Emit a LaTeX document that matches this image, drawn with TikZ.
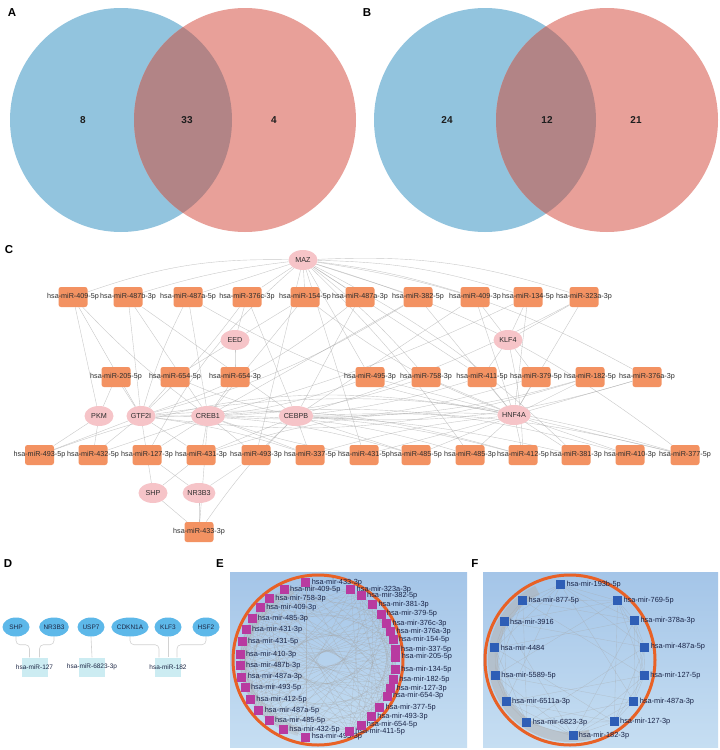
\documentclass[tikz,border=0pt]{standalone}
\usepackage{fontspec}
\setmainfont{Liberation Sans}
\usetikzlibrary{shapes.geometric,calc}
\pgfdeclarelayer{bg}\pgfdeclarelayer{edges}\pgfsetlayers{bg,edges,main}
\definecolor{vblue}{RGB}{146,196,222}
\definecolor{vred}{RGB}{232,160,153}
\definecolor{vmix}{RGB}{178,132,134}
\definecolor{vtext}{RGB}{30,30,30}
\definecolor{cbox}{RGB}{243,146,98}
\definecolor{cpink}{RGB}{246,196,200}
\definecolor{ctext}{RGB}{45,45,45}
\definecolor{dblue}{RGB}{93,184,233}
\definecolor{dcyan}{RGB}{204,236,242}
\definecolor{dtext}{RGB}{30,40,70}
\definecolor{eorange}{RGB}{232,97,38}
\definecolor{emag}{RGB}{184,58,160}
\definecolor{fblue}{RGB}{46,94,182}
\definecolor{ebgtop}{RGB}{164,197,232}
\definecolor{ebgbot}{RGB}{198,222,242}
\definecolor{etext}{RGB}{25,35,70}
\begin{document}
\begin{tikzpicture}[x=1pt,y=-1pt,
 plabel/.style={font=\fontsize{11.5}{12}\selectfont\bfseries, inner sep=0pt},
 vnum/.style={font=\fontsize{10}{11}\selectfont\bfseries, text=vtext, inner sep=0pt},
 mbox/.style={fill=cbox, rounded corners=2.5pt, minimum width=29pt, minimum height=20pt, inner sep=0pt},
 mlab/.style={font=\fontsize{7.2}{8}\selectfont, text=ctext, inner sep=0pt},
 tf/.style={ellipse, fill=cpink, minimum width=29pt, minimum height=20pt, inner sep=0pt, font=\fontsize{7.2}{8}\selectfont, text=ctext},
 cedge/.style={draw=gray!65, line width=0.4pt, opacity=0.65},
 dell/.style={ellipse, fill=dblue, minimum width=27pt, minimum height=19pt, inner sep=0pt, font=\fontsize{6.5}{7}\selectfont, text=dtext},
 dbox/.style={fill=dcyan, minimum width=26pt, minimum height=19pt, inner sep=0pt},
 dlab/.style={font=\fontsize{6.5}{7}\selectfont, text=dtext, inner sep=0pt},
 dconn/.style={draw=gray!35, line width=0.6pt, rounded corners=4pt},
 esq/.style={fill=emag, minimum size=9pt, inner sep=0pt},
 fsq/.style={fill=fblue, minimum size=9pt, inner sep=0pt},
 elbl/.style={font=\fontsize{7.4}{8}\selectfont, text=etext, inner xsep=1pt, inner ysep=0pt},
 eedge/.style={draw=gray!70, line width=0.35pt, opacity=0.45},
 ring/.style={draw=eorange, line width=3pt}
]
\useasboundingbox (0,0) rectangle (720,750);
\begin{pgfonlayer}{bg}
\fill[white] (0,0) rectangle (720,750);
\shade[top color=ebgtop, bottom color=ebgbot] (230,572) rectangle (467,747);
\shade[top color=ebgtop, bottom color=ebgbot] (483,572) rectangle (718,747);
\end{pgfonlayer}

% ---------- Panel labels
\node[plabel] (labA) at (12,13) {A};
\node[plabel] (labB) at (367,13) {B};
\node[plabel] (labC) at (9,250) {C};
\node[plabel] (labD) at (8,564) {D};
\node[plabel] (labE) at (220,564) {E};
\node[plabel] (labF) at (475,564) {F};

% ---------- Venn A
\fill[vblue] (121,120) ellipse [x radius=111pt, y radius=112pt];
\fill[vred] (245,120) ellipse [x radius=111pt, y radius=112pt];
\begin{scope}
\clip (121,120) ellipse [x radius=111pt, y radius=112pt];
\fill[vmix] (245,120) ellipse [x radius=111pt, y radius=112pt];
\end{scope}
\node[vnum] (nA1) at (83,120) {8};
\node[vnum] (nA2) at (187,120) {33};
\node[vnum] (nA3) at (274,120) {4};
% ---------- Venn B
\fill[vblue] (485,120) ellipse [x radius=111pt, y radius=112pt];
\fill[vred] (607,120) ellipse [x radius=111pt, y radius=112pt];
\begin{scope}
\clip (485,120) ellipse [x radius=111pt, y radius=112pt];
\fill[vmix] (607,120) ellipse [x radius=111pt, y radius=112pt];
\end{scope}
\node[vnum] (nB1) at (447,120) {24};
\node[vnum] (nB2) at (547,120) {12};
\node[vnum] (nB3) at (636,120) {21};

% ---------- Panel C nodes
\node[tf] (maz) at (303,260) {MAZ};
\node[tf] (eed) at (235,340) {EED};
\node[tf] (klf4) at (508,340) {KLF4};
\node[tf] (pkm) at (99,416) {PKM};
\node[tf] (gtf) at (141,416) {GTF2I};
\node[tf] (creb) at (208,416) {CREB1};
\node[tf] (cebpb) at (296,416) {CEBPB};
\node[tf] (hnf) at (514,415) {HNF4A};
\node[tf] (shp) at (153,493) {SHP};
\node[tf] (nr3) at (199,493) {NR3B3};
\foreach \x/\t [count=\i] in {73/hsa-miR-409-5p,128/hsa-miR-487b-3p,188/hsa-miR-487a-5p,247/hsa-miR-376c-3p,305/hsa-miR-154-5p,360/hsa-miR-487a-3p,418/hsa-miR-382-5p,475/hsa-miR-409-3p,528/hsa-miR-134-5p,584/hsa-miR-323a-3p}
  \node[mbox, label={[mlab]center:\t}] (a\i) at (\x,297) {};
\foreach \x/\t [count=\i] in {116/hsa-miR-205-5p,175/hsa-miR-654-5p,235/hsa-miR-654-3p,370/hsa-miR-495-3p,426/hsa-miR-758-3p,482/hsa-miR-411-5p,536/hsa-miR-379-5p,590/hsa-miR-182-5p,647/hsa-miR-376a-3p}
  \node[mbox, label={[mlab]center:\t}] (b\i) at (\x,377) {};
\foreach \x/\t [count=\i] in {39.5/hsa-miR-493-5p,93/hsa-miR-432-5p,147/hsa-miR-127-3p,201/hsa-miR-431-3p,256/hsa-miR-493-3p,310/hsa-miR-337-5p,364/hsa-miR-431-5p,416/hsa-miR-485-5p,470/hsa-miR-485-3p,523/hsa-miR-412-5p,576/hsa-miR-381-3p,630/hsa-miR-410-3p,685/hsa-miR-377-5p}
  \node[mbox, label={[mlab]center:\t}] (c\i) at (\x,455) {};
\node[mbox, label={[mlab]center:hsa-miR-433-3p}] (d1) at (199,532) {};

\begin{pgfonlayer}{edges}
\foreach \s/\t/\b in {maz/a1/-10,maz/a2/-5,maz/a3/0,maz/a4/0,maz/a5/0,maz/a6/0,maz/a7/0,maz/a8/5,maz/a9/8,maz/a10/10,maz/b4/0,maz/b5/5,maz/b6/0,maz/b9/10,maz/c3/-10,maz/c5/0,maz/c7/0,maz/c9/5,maz/c11/8,maz/c13/10,
 gtf/a1/0,gtf/a2/0,gtf/a3/5,gtf/a4/-5,gtf/a6/-10,gtf/a7/-8,gtf/b1/0,gtf/b2/0,gtf/b4/-10,gtf/b8/-12,gtf/c1/0,gtf/c2/0,gtf/c3/0,gtf/c4/0,gtf/c6/5,gtf/c8/8,gtf/c10/10,gtf/c13/12,
 creb/a1/5,creb/a2/0,creb/a3/0,creb/a5/0,creb/a7/0,creb/a9/-5,creb/b3/0,creb/b5/-8,creb/b7/-10,creb/c2/0,creb/c3/0,creb/c4/0,creb/c5/0,creb/c6/0,creb/c7/-5,creb/c9/8,creb/c12/10,creb/d1/0,
 cebpb/a2/0,cebpb/a4/0,cebpb/a6/0,cebpb/a8/0,cebpb/a10/-5,cebpb/b2/5,cebpb/b6/-5,cebpb/b8/-8,cebpb/b9/-10,cebpb/c4/0,cebpb/c5/0,cebpb/c6/0,cebpb/c8/0,cebpb/c10/5,cebpb/c11/5,cebpb/c13/8,cebpb/d1/-5,
 hnf/a3/10,hnf/a5/8,hnf/a7/0,hnf/a8/0,hnf/a9/0,hnf/a10/0,hnf/b4/0,hnf/b5/0,hnf/b6/0,hnf/b7/0,hnf/b8/0,hnf/b9/0,hnf/c1/-15,hnf/c4/-10,hnf/c6/-5,hnf/c7/0,hnf/c8/0,hnf/c9/0,hnf/c10/0,hnf/c11/0,hnf/c12/0,hnf/c13/0,
 klf4/a8/0,klf4/a9/0,klf4/a10/0,klf4/b6/0,klf4/b7/0,klf4/c10/5,
 eed/a4/0,eed/a5/0,eed/b3/0,eed/b2/0,
 pkm/a1/0,pkm/b1/0,pkm/c1/0,pkm/c2/0,
 shp/c3/0,shp/d1/0,shp/c4/0,nr3/c3/0,nr3/d1/0,nr3/c5/0}
  \draw[cedge] (\s) to[bend left=\b] (\t);
\end{pgfonlayer}

% ---------- Panel D
\node[dell] (dshp) at (16,627) {SHP};
\node[dell] (dnr) at (54,627) {NR3B3};
\node[dell] (dusp) at (91,627) {USP7};
\node[dell] (dcdk) at (130,627) {CDKN1A};
\node[dell] (dklf) at (168,627) {KLF3};
\node[dell] (dhsf) at (206,627) {HSF2};
\node[dbox, label={[dlab]center:hsa-miR-127}] (d127) at (34.5,667) {};
\node[dbox, label={[dlab]center:hsa-miR-6823-3p}] (d6823) at (92,667) {};
\node[dbox, label={[dlab]center:hsa-miR-182}] (d182) at (168,667) {};
\begin{pgfonlayer}{edges}
\draw[dconn] (dshp.south) -- ++(0,8) -| ([xshift=-5pt]d127.north);
\draw[dconn] (dnr.south) -- ++(0,8) -| ([xshift=5pt]d127.north);
\draw[dconn] (dusp.south) -- (d6823.north);
\draw[dconn] (dcdk.south) -- ++(0,8) -| ([xshift=-9pt]d182.north);
\draw[dconn] (dklf.south) -- (d182.north);
\draw[dconn] (dhsf.south) -- ++(0,8) -| ([xshift=9pt]d182.north);
\end{pgfonlayer}

% ---------- Panel E
\coordinate (ec) at (318,660);
\draw[ring] (ec) circle [radius=85pt];
\foreach \a/\t [count=\i] in {98.9/hsa-mir-433-3p,115.6/hsa-mir-409-5p,128.4/hsa-mir-758-3p,137.6/hsa-mir-409-3p,147.8/hsa-mir-485-3p,157.1/hsa-mir-431-3p,166.4/hsa-mir-431-5p,176.3/hsa-mir-410-3p,184.4/hsa-mir-487b-3p,192.6/hsa-mir-487a-3p,200.9/hsa-mir-493-5p,210.2/hsa-mir-412-5p,220.8/hsa-mir-487a-5p,231.2/hsa-mir-485-5p,243.8/hsa-mir-432-5p,261.1/hsa-mir-495-3p,293.7/hsa-mir-411-5p,303.5/hsa-mir-654-5p,313.4/hsa-mir-493-3p,322.4/hsa-mir-377-5p,332.5/hsa-mir-654-3p,338.6/hsa-mir-127-3p,345.3/hsa-mir-182-5p,353.3/hsa-mir-134-5p,2.2/hsa-mir-205-5p,7.9/hsa-mir-337-5p,15.4/hsa-mir-154-5p,21.4/hsa-mir-376a-3p,28.2/hsa-mir-376c-3p,36.1/hsa-mir-379-5p,45.5/hsa-mir-381-3p,56.3/hsa-mir-382-5p,65.1/hsa-mir-323a-3p}
  \node[esq, label={[elbl]east:\t}] (e\i) at ($(ec)+(\a:78pt)$) {};
\begin{pgfonlayer}{edges}
\draw[gray!60, opacity=0.35, line width=9pt] ($(ec)+(110:74pt)$) arc[start angle=110, end angle=255, radius=74pt];
\foreach \i in {1,...,33}{
  \foreach \k in {2,5,8,12,15}{
    \pgfmathtruncatemacro\j{mod(\i+\k-1,33)+1}
    \draw[eedge] (e\i) -- (e\j);
  }
}
\end{pgfonlayer}

% ---------- Panel F
\coordinate (fc) at (570,660);
\draw[ring] (fc) circle [radius=85pt];
\foreach \a/\t [count=\i] in {97.1/hsa-mir-193b-5p,128.4/hsa-mir-877-5p,149.9/hsa-mir-3916,170.9/hsa-mir-4484,191.6/hsa-mir-5589-5p,213.1/hsa-mir-6511a-3p,235.5/hsa-mir-6823-3p,272.3/hsa-mir-182-3p,305.6/hsa-mir-127-3p,327.2/hsa-mir-487a-3p,348.1/hsa-mir-127-5p,9.8/hsa-mir-487a-5p,31.6/hsa-mir-378a-3p,51.2/hsa-mir-769-5p}
  \node[fsq, label={[elbl]east:\t}] (f\i) at ($(fc)+(\a:76pt)$) {};
\begin{pgfonlayer}{edges}
\draw[gray!60, opacity=0.55, line width=10pt] ($(fc)+(115:77pt)$) arc[start angle=115, end angle=285, radius=77pt];
\foreach \i in {1,...,14}{
  \foreach \k in {1,2,3,5}{
    \pgfmathtruncatemacro\j{mod(\i+\k-1,14)+1}
    \draw[eedge] (f\i) -- (f\j);
  }
}
\end{pgfonlayer}
\end{tikzpicture}
\end{document}
